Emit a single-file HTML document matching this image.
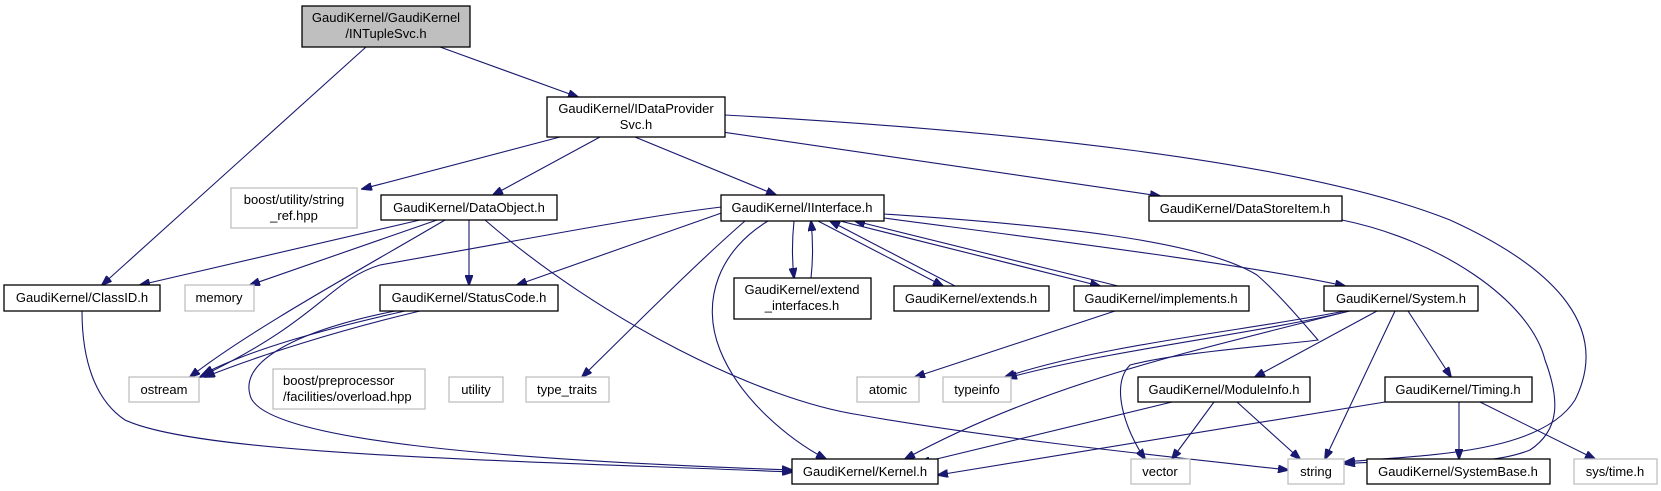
<!DOCTYPE html>
<html><head><meta charset="utf-8"><style>
html,body{margin:0;padding:0;background:#fff;}
svg{display:block;}
text{font-family:"Liberation Sans",sans-serif;font-size:13px;fill:#000;}
.n{fill:#fff;stroke:#000;stroke-width:1.3;}
.g{fill:#fff;stroke:#bfbfbf;stroke-width:1.3;}
.e{fill:none;stroke:#191970;stroke-width:1.1;}
</style></head><body>
<svg width="1661" height="491" viewBox="0 0 1661 491" xmlns="http://www.w3.org/2000/svg">
<defs><marker id="a" markerUnits="userSpaceOnUse" markerWidth="11" markerHeight="8" refX="10" refY="4" orient="auto"><path d="M0,0 L11,4 L0,8 z" fill="#191970" stroke="#191970"/></marker></defs>
<g marker-end="url(#a)">
<path class="e" d="M366,47 L102,285"/>
<path class="e" d="M440,47 L578,97"/>
<path class="e" d="M560,137 L362,189"/>
<path class="e" d="M600,137 L493,195"/>
<path class="e" d="M635,137 L776,195"/>
<path class="e" d="M681,126 L1160,196"/>
<path class="e" d="M725,115 C1000,130 1300,160 1450,220 C1560,270 1610,330 1575,400 C1540,455 1420,455 1345,462"/>
<path class="e" d="M1342,220 C1440,240 1530,300 1545,360 C1560,400 1560,430 1530,450 C1480,470 1400,458 1345,464"/>
<path class="e" d="M420,220 L140,285"/>
<path class="e" d="M437,220 L250,285"/>
<path class="e" d="M445,220 C360,270 250,330 190,377"/>
<path class="e" d="M469,220 L469,285"/>
<path class="e" d="M485,220 C600,320 760,400 860,415 C1000,440 1200,460 1288,470"/>
<path class="e" d="M730,206 C650,215 550,235 380,265 C330,280 320,320 200,377"/>
<path class="e" d="M730,210 L517,285"/>
<path class="e" d="M745,221 C700,260 640,320 582,377"/>
<path class="e" d="M768,221 C720,250 700,300 720,350 C740,400 790,440 826,459"/>
<path class="e" d="M794,221 C792,240 792,260 794,278"/>
<path class="e" d="M811,278 C813,260 813,240 811,221"/>
<path class="e" d="M818,221 L943,286"/>
<path class="e" d="M955,286 L830,221"/>
<path class="e" d="M840,221 L1100,286"/>
<path class="e" d="M1118,286 L855,221"/>
<path class="e" d="M884,218 C1050,240 1250,265 1345,286"/>
<path class="e" d="M884,214 C1050,225 1200,240 1257,275 C1280,295 1305,325 1318,340 C1280,345 1180,352 1130,365 C1110,385 1125,430 1145,459"/>
<path class="e" d="M1115,311 L915,377"/>
<path class="e" d="M1345,311 C1250,330 1100,345 1005,377"/>
<path class="e" d="M1350,311 C1250,335 1110,350 1007,378"/>
<path class="e" d="M1345,312 C1200,350 1050,380 905,459"/>
<path class="e" d="M1377,311 L1255,377"/>
<path class="e" d="M1395,311 L1325,459"/>
<path class="e" d="M1408,311 L1451,377"/>
<path class="e" d="M1172,402 L920,463"/>
<path class="e" d="M1214,402 L1172,459"/>
<path class="e" d="M1237,402 L1300,459"/>
<path class="e" d="M1385,402 L938,475"/>
<path class="e" d="M1459,402 L1459,459"/>
<path class="e" d="M1480,402 L1595,459"/>
<path class="e" d="M82,311 C82,360 95,400 125,420 C200,455 500,460 792,472"/>
<path class="e" d="M395,311 C300,330 240,360 250,395 C260,440 500,460 792,470"/>
<path class="e" d="M405,311 C320,330 250,350 203,374"/>
<path class="e" d="M420,311 C340,330 260,355 205,377"/>
</g>
<rect x="302" y="6" width="168" height="41" fill="#bfbfbf" stroke="#000" stroke-width="1.3"/>
<text x="386" y="22" text-anchor="middle">GaudiKernel/GaudiKernel</text><text x="386" y="38" text-anchor="middle">/INTupleSvc.h</text>
<rect class="n" x="547" y="97" width="178" height="40"/>
<text x="636" y="113" text-anchor="middle">GaudiKernel/IDataProvider</text><text x="636" y="129" text-anchor="middle">Svc.h</text>
<rect class="g" x="231" y="188" width="126" height="40"/>
<text x="294" y="204" text-anchor="middle">boost/utility/string</text><text x="294" y="220" text-anchor="middle">_ref.hpp</text>
<rect class="n" x="381" y="195" width="176" height="25"/><text x="469" y="212" text-anchor="middle">GaudiKernel/DataObject.h</text>
<rect class="n" x="721" y="195" width="163" height="26"/><text x="802" y="212" text-anchor="middle">GaudiKernel/IInterface.h</text>
<rect class="n" x="1149" y="196" width="193" height="25"/><text x="1245" y="213" text-anchor="middle">GaudiKernel/DataStoreItem.h</text>
<rect class="n" x="4" y="285" width="156" height="26"/><text x="82" y="302" text-anchor="middle">GaudiKernel/ClassID.h</text>
<rect class="g" x="185" y="285" width="69" height="26"/><text x="219" y="302" text-anchor="middle">memory</text>
<rect class="n" x="380" y="285" width="178" height="26"/><text x="469" y="302" text-anchor="middle">GaudiKernel/StatusCode.h</text>
<rect class="n" x="734" y="278" width="137" height="41"/>
<text x="802" y="294" text-anchor="middle">GaudiKernel/extend</text><text x="802" y="310" text-anchor="middle">_interfaces.h</text>
<rect class="n" x="894" y="286" width="155" height="25"/><text x="971" y="303" text-anchor="middle">GaudiKernel/extends.h</text>
<rect class="n" x="1074" y="286" width="175" height="25"/><text x="1161" y="303" text-anchor="middle">GaudiKernel/implements.h</text>
<rect class="n" x="1324" y="286" width="154" height="25"/><text x="1401" y="303" text-anchor="middle">GaudiKernel/System.h</text>
<rect class="g" x="129" y="377" width="70" height="25"/><text x="164" y="394" text-anchor="middle">ostream</text>
<rect class="g" x="273" y="369" width="152" height="40"/>
<text x="283" y="385">boost/preprocessor</text><text x="283" y="401">/facilities/overload.hpp</text>
<rect class="g" x="449" y="377" width="54" height="25"/><text x="476" y="394" text-anchor="middle">utility</text>
<rect class="g" x="526" y="377" width="83" height="25"/><text x="567" y="394" text-anchor="middle">type_traits</text>
<rect class="g" x="857" y="377" width="62" height="25"/><text x="888" y="394" text-anchor="middle">atomic</text>
<rect class="g" x="943" y="377" width="68" height="25"/><text x="977" y="394" text-anchor="middle">typeinfo</text>
<rect class="n" x="1138" y="377" width="172" height="25"/><text x="1224" y="394" text-anchor="middle">GaudiKernel/ModuleInfo.h</text>
<rect class="n" x="1385" y="377" width="147" height="25"/><text x="1458" y="394" text-anchor="middle">GaudiKernel/Timing.h</text>
<rect class="n" x="792" y="459" width="146" height="25"/><text x="865" y="476" text-anchor="middle">GaudiKernel/Kernel.h</text>
<rect class="g" x="1131" y="459" width="59" height="25"/><text x="1160" y="476" text-anchor="middle">vector</text>
<rect class="g" x="1288" y="459" width="56" height="25"/><text x="1316" y="476" text-anchor="middle">string</text>
<rect class="n" x="1367" y="459" width="183" height="25"/><text x="1458" y="476" text-anchor="middle">GaudiKernel/SystemBase.h</text>
<rect class="g" x="1574" y="459" width="83" height="25"/><text x="1615" y="476" text-anchor="middle">sys/time.h</text>
</svg>
</body></html>
